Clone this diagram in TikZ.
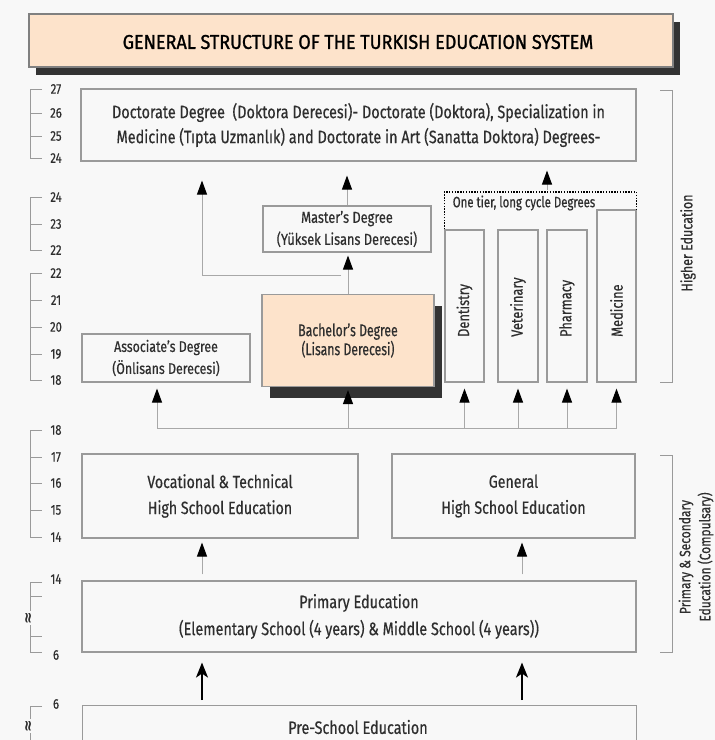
\documentclass[tikz,border=0pt]{standalone}
\usepackage{fontspec}
\setmainfont{Fira Sans}[FakeStretch=0.8,FakeBold=0.5]
\newfontfamily\titlefont{Fira Sans}[FakeStretch=0.9,FakeBold=1.2]
\newfontfamily\symfont{DejaVu Sans}
\usetikzlibrary{arrows.meta,calc,shadows}
\definecolor{bg}{HTML}{F8F8F8}
\definecolor{peach}{HTML}{FDE3CB}
\definecolor{shadowc}{HTML}{333333}
\definecolor{edge}{HTML}{9A9A9A}
\definecolor{ink}{HTML}{2E2E2E}
\definecolor{lin}{HTML}{A8A8A8}
\begin{document}
\begin{tikzpicture}[x=1pt,y=-1pt,
  box/.style={draw=edge,line width=1.1pt,fill=bg,inner sep=0pt,text=ink,align=center},
  lbl/.style={text=ink,inner sep=0pt,align=center},
  num/.style={text=ink,inner sep=0pt,font=\fontsize{14}{16}\selectfont},
  brk/.style={draw=edge,line width=1pt},
  arr/.style={draw=lin,line width=1pt,-{Triangle[length=14pt,width=10pt,color=black,fill=black]}},
  barr/.style={draw=black,line width=1.6pt,-{Stealth[length=15pt,width=12pt,inset=4pt]}},
  ln/.style={draw=lin,line width=1pt},
  brkmark/.style={fill=bg,inner sep=0.5pt,rotate=90,text=ink,font=\symfont\bfseries\fontsize{15}{15}\selectfont}]
\fill[bg] (0,0) rectangle (715,740);
\useasboundingbox (0,0) rectangle (715,740);

% title
\node[box,draw=gray,fill=peach,minimum width=644pt,minimum height=53pt,
  drop shadow={shadow xshift=7pt,shadow yshift=-8pt,fill=shadowc,opacity=1}] (title) at (351,40.5) {};
\node[lbl,text=black,font=\titlefont\fontsize{20}{22}\selectfont] (titlet) at (358,42) {GENERAL STRUCTURE OF THE TURKISH EDUCATION SYSTEM};

% doctorate
\node[box,minimum width=555pt,minimum height=72pt,font=\fontsize{18}{25}\selectfont] (doc) at (358.5,125)
  {Doctorate Degree~ (Doktora Derecesi)- Doctorate (Doktora), Specialization in\\Medicine (Tıpta Uzmanlık) and Doctorate in Art (Sanatta Doktora) Degrees-};

% master, bachelor, associate
\node[box,minimum width=168pt,minimum height=46pt,font=\fontsize{16}{22}\selectfont] (master) at (347,229)
  {Master’s Degree\\(Yüksek Lisans Derecesi)};
\node[box,fill=peach,minimum width=172pt,minimum height=92pt,font=\fontsize{17}{19}\selectfont\addfontfeature{FakeStretch=0.72},
  drop shadow={shadow xshift=8pt,shadow yshift=-11pt,fill=shadowc,opacity=1}] (bach) at (348,340.5)
  {Bachelor’s Degree\\(Lisans Derecesi)};
\node[box,minimum width=168pt,minimum height=48pt,font=\fontsize{15.5}{22}\selectfont] (assoc) at (166,358)
  {Associate’s Degree\\(Önlisans Derecesi)};

% one tier degrees
\node[box,minimum width=39pt,minimum height=152pt] (dent) at (464.5,306) {};
\node[box,minimum width=40pt,minimum height=152pt] (vet) at (518,306) {};
\node[box,minimum width=40pt,minimum height=152pt] (pharm) at (567,306) {};
\node[box,minimum width=39pt,minimum height=172pt] (med) at (616.5,296) {};
\foreach \n/\t in {dent/Dentistry,vet/Veterinary,pharm/Pharmacy,med/Medicine}
  \node[lbl,rotate=90,anchor=west,font=\fontsize{16}{18}\selectfont] (\n t) at (\n.center |- 0,337) {\t};
\coordinate (dtop) at (0,192);
\draw[black,line width=1.6pt,dash pattern=on 1.4pt off 1.4pt] (dent.north west) -- (dent.north west |- dtop) -- (med.north east |- dtop) -- (med.north east);
\node[lbl,font=\fontsize{15}{17}\selectfont\addfontfeature{FakeStretch=0.76}] (onet) at (524,203) {One tier, long cycle Degrees};

% arrows to doctorate
\coordinate (c202) at (202,0);
\coordinate (c157) at (157,0);
\coordinate (c522) at (522,0);
\coordinate (c547) at (547,0);
\coordinate (split) at (341,275);
\draw[arr,shorten >=19pt] (split) -| (doc.south -| c202);
\draw[arr,shorten >=14pt] (master.north) -- (doc.south -| master.north);
\draw[arr,shorten >=3pt] (bach.north) -- (bach.north |- master.south);
\draw[arr,shorten <=2pt,shorten >=9pt] (c547 |- dtop) -- (doc.south -| c547);

% bus to higher education
\coordinate (bus) at (0,428);
\draw[ln] (c157 |- bus) -- (med.south |- bus);
\foreach \n in {dent,vet,pharm,med}
  \draw[arr,shorten >=6pt] (\n.south |- bus) -- (\n.south);
\draw[arr,shorten >=6pt] (c157 |- bus) -- (assoc.south -| c157);
\draw[arr,shorten >=3pt] (bach.south |- bus) -- (bach.south);

% secondary
\node[box,minimum width=276pt,minimum height=84pt,font=\fontsize{17.7}{26}\selectfont] (voc) at (220,496)
  {Vocational \& Technical\\High School Education};
\node[box,minimum width=243pt,minimum height=84pt,font=\fontsize{17.7}{26}\selectfont] (gen) at (513.5,496)
  {General\\High School Education};
\node[box,minimum width=554pt,minimum height=71pt,font=\fontsize{18}{27}\selectfont] (prim) at (359,616.5)
  {Primary Education\\(Elementary School (4 years) \& Middle School (4 years))};
\node[box,minimum width=554pt,minimum height=70pt,anchor=north west] (pre) at (82,705) {};
\node[lbl,font=\fontsize{18}{20}\selectfont] (pret) at (358,727) {Pre-School Education};

\draw[arr,shorten <=6pt,shorten >=4pt] (prim.north -| c202) -- (voc.south -| c202);
\draw[arr,shorten <=6pt,shorten >=4pt] (prim.north -| c522) -- (gen.south -| c522);
\draw[barr,shorten <=5pt,shorten >=10pt] (pre.north -| c202) -- (prim.south -| c202);
\draw[barr,shorten <=5pt,shorten >=10pt] (pre.north -| c522) -- (prim.south -| c522);

% left age brackets
\draw[brk] (42,89) -- (30,89) -- (30,158) -- (42,158);
\foreach \y in {113,136} \draw[brk] (30,\y) -- (42,\y);
\foreach \t/\y [count=\i] in {27/89,26/113,25/136,24/158} \node[num] (a\i) at (56,\y) {\t};

\draw[brk] (42,197) -- (30,197) -- (30,250) -- (42,250);
\draw[brk] (30,224) -- (42,224);
\foreach \t/\y [count=\i] in {24/197,23/224,22/250} \node[num] (b\i) at (56,\y) {\t};

\draw[brk] (42,273) -- (30,273) -- (30,380) -- (42,380);
\foreach \y in {300,327,354} \draw[brk] (30,\y) -- (42,\y);
\foreach \t/\y [count=\i] in {22/273,21/300,20/327,19/354,18/380} \node[num] (c\i) at (56,\y) {\t};

\draw[brk] (42,430) -- (30,430) -- (30,537) -- (42,537);
\foreach \y in {457,483,510} \draw[brk] (30,\y) -- (42,\y);
\foreach \t/\y [count=\i] in {18/430,17/457,16/483,15/510,14/537} \node[num] (d\i) at (56,\y) {\t};

\draw[brk] (42,582) -- (30,582) -- (30,652) -- (42,652);
\foreach \y in {596,636} \draw[brk] (30,\y) -- (42,\y);
\node[brkmark] (e0) at (29,618) {≈};
\node[num] (e1) at (56,579) {14};
\node[num] (e2) at (56,655) {6};

\draw[brk] (42,706) -- (30,706) -- (30,745);
\node[brkmark] (f0) at (29,726) {≈};
\node[num] (f1) at (56,704) {6};

% right brackets
\draw[brk] (660,90) -- (672,90) -- (672,382) -- (660,382);
\node[lbl,rotate=90,font=\fontsize{15.6}{18}\selectfont] (he) at (688,243) {Higher Education};
\draw[brk] (660,455) -- (672,455) -- (672,652) -- (660,652);
\node[lbl,rotate=90,font=\fontsize{15}{20}\selectfont] (pse) at (696,557) {Primary \& Secondary\\Education (Compulsary)};
\end{tikzpicture}
\end{document}
